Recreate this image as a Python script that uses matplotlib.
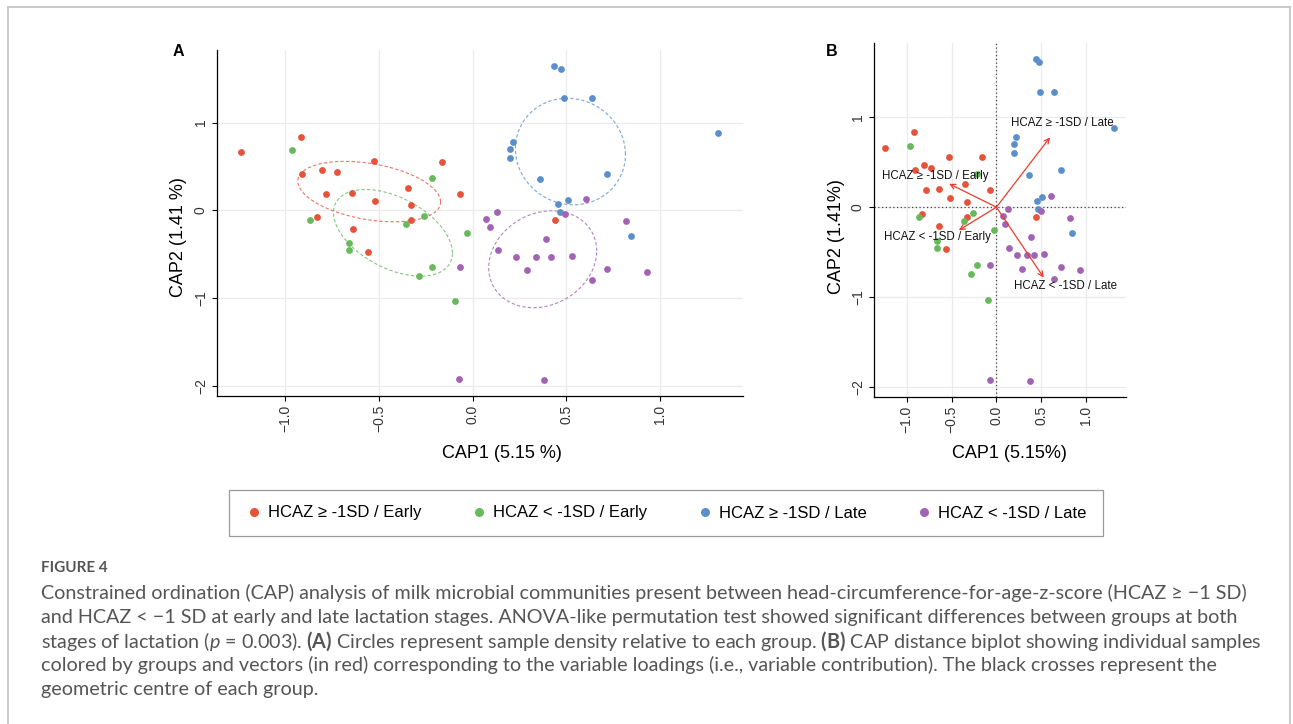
import numpy as np
import matplotlib.pyplot as plt
from matplotlib.lines import Line2D

plt.rcParams['font.family'] = ['Liberation Sans', 'DejaVu Sans']
plt.rcParams['mathtext.fontset'] = 'custom'
plt.rcParams['mathtext.rm'] = 'Lato'
plt.rcParams['mathtext.it'] = 'Lato:italic'
plt.rcParams['mathtext.bf'] = 'Lato:bold'

# groups
labels = ['HCAZ ≥ -1SD / Early', 'HCAZ < -1SD / Early', 'HCAZ ≥ -1SD / Late', 'HCAZ < -1SD / Late']
colors = ['#E6533B', '#68B85C', '#5B8FCB', '#A263B4']

# CAP1 / CAP2 scores per group
hi_early_x = [-1.239, -0.915, -0.913, -0.804, -0.724, -0.785, -0.830, -0.524, -0.645,
              -0.520, -0.347, -0.327, -0.331, -0.639, -0.557, -0.164, -0.066, 0.440]
hi_early_y = [0.662, 0.833, 0.414, 0.464, 0.437, 0.186, -0.080, 0.563, 0.198,
              0.103, 0.259, 0.061, -0.110, -0.213, -0.468, 0.555, 0.186, -0.106]
lo_early_x = [-0.964, -0.867, -0.214, -0.261, -0.356, -0.660, -0.662, -0.214, -0.288, -0.031, -0.092]
lo_early_y = [0.684, -0.110, 0.369, -0.061, -0.152, -0.376, -0.456, -0.643, -0.745, -0.255, -1.034]
hi_late_x = [0.436, 0.471, 0.489, 0.637, 1.313, 0.216, 0.199, 0.201, 0.362, 0.719, 0.456, 0.510, 0.465, 0.847]
hi_late_y = [1.646, 1.616, 1.278, 1.281, 0.886, 0.783, 0.703, 0.601, 0.354, 0.414, 0.072, 0.114, -0.019, -0.293]
lo_late_x = [0.604, 0.130, 0.074, 0.092, 0.495, 0.820, 0.391, 0.138, 0.230, 0.341, 0.421, 0.530,
             0.290, 0.717, 0.931, 0.637, -0.068, -0.072, 0.380]
lo_late_y = [0.125, -0.019, -0.099, -0.186, -0.042, -0.118, -0.327, -0.456, -0.536, -0.529, -0.536, -0.521,
             -0.684, -0.669, -0.700, -0.798, -0.646, -1.924, -1.932]

group_x = [hi_early_x, lo_early_x, hi_late_x, lo_late_x]
group_y = [hi_early_y, lo_early_y, hi_late_y, lo_late_y]

# density ellipses (centre + covariance-like shape)
ell_cx = [-0.552, -0.425, 0.523, 0.375]
ell_cy = [0.215, -0.255, 0.671, -0.556]
ell_sxx = [0.1455, 0.101, 0.0864, 0.0832]
ell_sxy = [-0.045, -0.073, -0.010, 0.0275]
ell_syy = [0.1185, 0.244, 0.368, 0.3047]

# biplot vectors (B)
arrow_x = [-0.527, -0.419, 0.597, 0.527]
arrow_y = [0.260, -0.257, 0.777, -0.784]
arrow_lab_x = [-1.273, -1.254, 0.167, 0.200]
arrow_lab_y = [0.346, -0.331, 0.933, -0.881]

xticks = [-1.0, -0.5, 0.0, 0.5, 1.0]
yticks = [-2, -1, 0, 1]

W, H = 1293, 724
fig = plt.figure(figsize=(W / 100, H / 100), dpi=100)


def px_axes(l, t, r, b):
    return fig.add_axes([l / W, 1 - b / H, (r - l) / W, (b - t) / H])


def style(ax):
    ax.set_xlim(-1.365, 1.445)
    ax.set_ylim(-2.114, 1.828)
    ax.set_xticks(xticks)
    ax.set_xticklabels([f'{v:.1f}'.replace('-', '\u2212') for v in xticks])
    ax.set_yticks(yticks)
    ax.set_yticklabels([str(v).replace('-', '\u2212') for v in yticks])
    ax.grid(True, color='#ebebeb', lw=0.9)
    ax.set_axisbelow(True)
    for s in ['top', 'right']:
        ax.spines[s].set_visible(False)
    for s in ['left', 'bottom']:
        ax.spines[s].set_linewidth(0.9)
    ax.tick_params(length=3.5, width=0.8, labelsize=10, labelcolor='#333333', pad=3)
    ax.tick_params(axis='x', labelrotation=90)
    ax.tick_params(axis='y', labelrotation=90)
    for lab in ax.get_yticklabels():
        lab.set_va('center')


def points(ax):
    for gx, gy, c in zip(group_x, group_y, colors):
        ax.scatter(gx, gy, s=24, color=c, linewidths=0, zorder=3)


axA = px_axes(217, 50, 743, 396)
style(axA)
points(axA)
t = np.linspace(0, 2 * np.pi, 300)
for cx, cy, sxx, sxy, syy, c in zip(ell_cx, ell_cy, ell_sxx, ell_sxy, ell_syy, colors):
    a1 = np.sqrt(sxx)
    a2 = sxy / a1
    b2 = np.sqrt(syy - a2 ** 2)
    axA.plot(cx + a1 * np.cos(t), cy + a2 * np.cos(t) + b2 * np.sin(t),
             color=c, lw=0.8, ls=(0, (3, 2)), alpha=0.8, zorder=2)

axB = px_axes(874, 43, 1126, 397)
style(axB)
axB.axhline(0, color='#444444', lw=0.9, ls=(0, (1, 2)), zorder=1)
axB.axvline(0, color='#444444', lw=0.9, ls=(0, (1, 2)), zorder=1)
points(axB)
for ax_, ay_, lx, ly, lab in zip(arrow_x, arrow_y, arrow_lab_x, arrow_lab_y, labels):
    axB.annotate('', xy=(ax_, ay_), xytext=(0, 0),
                 arrowprops=dict(arrowstyle='->', color='#EE3B2B', lw=0.9,
                                 mutation_scale=9, shrinkA=0, shrinkB=0), zorder=4)
    axB.text(lx, ly, lab, ha='left', va='center', fontsize=8.3, color='#111111', zorder=5)

# axis titles and panel tags
fig.text(502 / W, 1 - 453 / H, 'CAP1 (5.15 %)', ha='center', va='center', fontsize=13)
fig.text(178.5 / W, 1 - 237 / H, 'CAP2 (1.41 %)', ha='center', va='center', fontsize=13, rotation=90)
fig.text(1009.7 / W, 1 - 453 / H, 'CAP1 (5.15%)', ha='center', va='center', fontsize=13)
fig.text(836.7 / W, 1 - 237 / H, 'CAP2 (1.41%)', ha='center', va='center', fontsize=13, rotation=90)
fig.text(178 / W, 1 - 52 / H, 'A', ha='center', va='center', fontsize=11.5, weight='bold')
fig.text(832 / W, 1 - 51 / H, 'B', ha='center', va='center', fontsize=11.5, weight='bold')

handles = [Line2D([], [], ls='none', marker='o', ms=6.5, mec='none', mfc=c) for c in colors]
leg = fig.legend(handles, labels, loc='center', bbox_to_anchor=(665.8 / W, 1 - 513 / H), ncol=4,
                 frameon=True, fancybox=False, edgecolor='#9a9a9a', fontsize=12,
                 handlelength=1.1, handletextpad=0.3, columnspacing=2.9, borderpad=0.95,
                 framealpha=1)
leg.get_frame().set_linewidth(0.9)

# page frame
frame = dict(transform=fig.transFigure, color='#c6c6c6', lw=1.3)
fig.add_artist(Line2D([8 / W, 8 / W], [0, 1 - 7 / H], **frame))
fig.add_artist(Line2D([8 / W, 1290 / W], [1 - 7 / H, 1 - 7 / H], **frame))
fig.add_artist(Line2D([1290 / W, 1290 / W], [0, 1 - 7 / H], **frame))

# caption
cap_font = ['Lato', 'DejaVu Sans']
fig.text(41 / W, 1 - 568 / H, 'FIGURE 4', fontsize=11, weight='bold', color='#555555',
         family=cap_font, va='center')
cap_lines = [
    'Constrained ordination (CAP) analysis of milk microbial communities present between '
    'head-circumference-for-age-z-score (HCAZ \u2265 \u22121 SD)',
    'and HCAZ < \u22121 SD at early and late lactation stages. ANOVA-like permutation test showed '
    'significant differences between groups at both',
    r'stages of lactation ($\mathit{p}$ = 0.003). $\mathbf{(A)}$ Circles represent sample density relative '
    r'to each group. $\mathbf{(B)}$ CAP distance biplot showing individual samples',
    'colored by groups and vectors (in red) corresponding to the variable loadings (i.e., variable '
    'contribution). The black crosses represent the',
    'geometric centre of each group.',
]
cap_y = [593, 617, 641, 665, 689]
texts = [fig.text(41 / W, 1 - y / H, s, fontsize=13, color='#555555', family=cap_font, va='center')
         for s, y in zip(cap_lines, cap_y)]
r = fig.canvas.get_renderer()
wid = texts[0].get_window_extent(r).width
for tx in texts:
    tx.set_fontsize(13 * 1201 / wid)

fig.savefig('out.png', dpi=100, facecolor='white')
